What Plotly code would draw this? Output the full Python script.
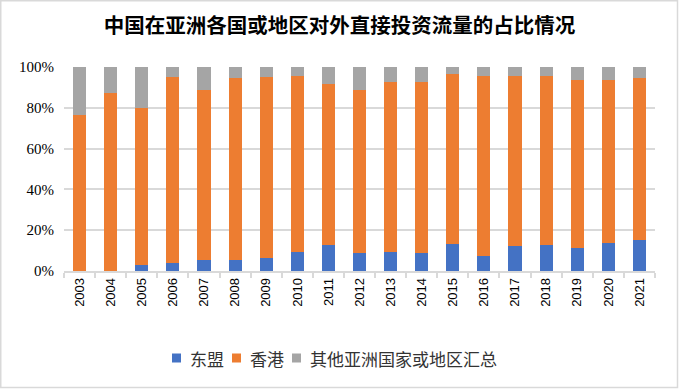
import plotly.graph_objects as go

years = [str(y) for y in range(2003, 2022)]
asean = [0.0, 0.0, 3.0, 4.1, 5.4, 5.4, 6.4, 9.4, 12.8, 8.9, 9.4, 8.9, 13.3, 7.4, 12.3, 12.8, 11.3, 13.8, 15.3]
hongkong = [76.5, 87.3, 76.8, 91.1, 83.3, 89.2, 88.8, 86.2, 78.8, 79.8, 83.2, 83.7, 83.2, 88.2, 83.3, 82.8, 82.3, 79.8, 79.3]
others = [23.5, 12.7, 20.2, 4.8, 11.3, 5.4, 4.8, 4.4, 8.4, 11.3, 7.4, 7.4, 3.5, 4.4, 4.4, 4.4, 6.4, 6.4, 5.4]

series_names = ["东盟", "香港", "其他亚洲国家或地区汇总"]
colors = ["#4472C4", "#ED7D31", "#A5A5A5"]
title_text = "中国在亚洲各国或地区对外直接投资流量的占比情况"

fig = go.Figure()
for name, vals, c in zip(series_names, [asean, hongkong, others], colors):
    fig.add_trace(go.Bar(x=years, y=vals, name=name, marker=dict(color=c, line=dict(width=0))))

W, H = 679, 389
ml, mr, mt, mb = 64, 24, 67, 118
pw, ph = W - ml - mr, H - mt - mb


def px_x(p):
    return (p - ml) / pw


def px_y(p):
    return (H - mb - p) / ph


fig.update_layout(
    width=W, height=H,
    barmode="stack", bargap=0.58,
    margin=dict(l=ml, r=mr, t=mt, b=mb, autoexpand=False),
    paper_bgcolor="white", plot_bgcolor="white",
    title=dict(text="<b>" + title_text + "</b>",
               x=px_x(339.5), xanchor="center", xref="paper", y=1 - 25.5 / H, yanchor="middle",
               font=dict(family="Noto Sans CJK SC", size=20.5, color="#000000")),
    showlegend=False,
)
fig.update_xaxes(type="category", showline=True, linecolor="#D9D9D9", linewidth=1.5,
                 ticks="outside", tickson="boundaries", ticklen=5, tickcolor="#D9D9D9", tickwidth=1.5,
                 tickangle=-90, tickfont=dict(family="Liberation Sans", size=13, color="#000000"),
                 showgrid=False)
fig.update_yaxes(range=[0, 100], tickvals=[0, 20, 40, 60, 80, 100], ticktext=["0%", "20%", "40%", "60%", "80%", "100%"],
                 showgrid=True, gridcolor="#D9D9D9", gridwidth=1.5, zeroline=False, showline=False,
                 ticks="outside", ticklen=6, tickcolor="rgba(0,0,0,0)",
                 tickfont=dict(family="Liberation Serif", size=15, color="#000000"))

# outer chart border
fig.add_shape(type="rect", xref="paper", yref="paper",
              x0=px_x(0.75), x1=px_x(W - 1.5), y0=px_y(H - 1.5), y1=px_y(0.75),
              line=dict(color="#D9D9D9", width=1.5), layer="below")

# legend drawn below the plot (compact Office-style)
leg_sq_x = [172, 232, 292]
leg_cy = 358
for name, c, sx in zip(series_names, colors, leg_sq_x):
    fig.add_shape(type="rect", xref="paper", yref="paper",
                  x0=px_x(sx), x1=px_x(sx + 9), y0=px_y(leg_cy + 4.5), y1=px_y(leg_cy - 4.5),
                  fillcolor=c, line=dict(width=0))
    fig.add_annotation(xref="paper", yref="paper", x=px_x(sx + 16), y=px_y(leg_cy),
                       xanchor="left", yanchor="middle", showarrow=False, text=name,
                       font=dict(family="Noto Sans CJK SC", size=17, color="#333333"))

fig.write_html("out.html", config={"displayModeBar": False},
               post_script="document.body.style.margin='0px';")
